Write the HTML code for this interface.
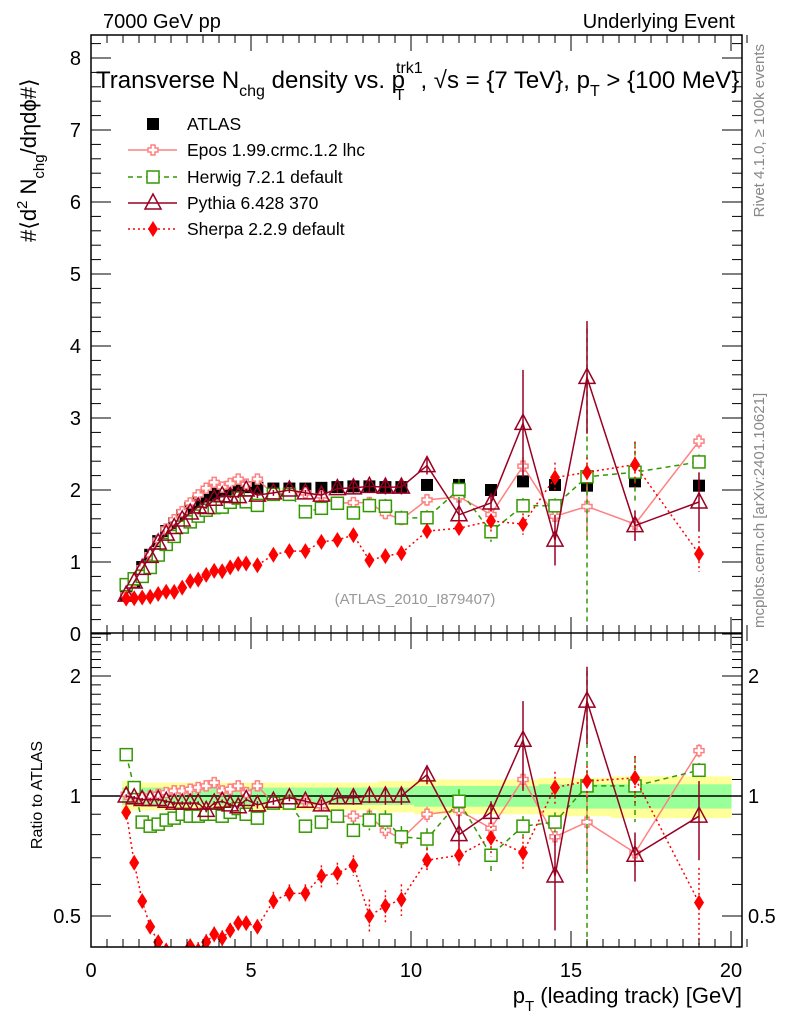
<!DOCTYPE html>
<html><head><meta charset="utf-8">
<style>
html,body{margin:0;padding:0;background:#fff;width:786px;height:1024px;overflow:hidden;}
svg{display:block;font-family:"Liberation Sans",sans-serif;}
</style></head>
<body>
<svg id="c" width="786" height="1024" viewBox="0 0 786 1024">
<defs>
<clipPath id="clipMain"><rect x="91" y="35" width="651" height="598"/></clipPath>
<clipPath id="clipRatio"><rect x="91" y="633" width="651" height="314"/></clipPath>
</defs>
<text x="103" y="28" font-size="20">7000 GeV pp</text>
<text x="735" y="28" font-size="20" text-anchor="end">Underlying Event</text>
<text transform="translate(764,44) rotate(-90)" font-size="15" fill="#888" text-anchor="end">Rivet 4.1.0, ≥ 100k events</text>
<text transform="translate(764,628) rotate(-90)" font-size="15" fill="#888">mcplots.cern.ch [arXiv:2401.10621]</text>
<g id="bands" clip-path="url(#clipRatio)"></g>
<g id="marksMain" clip-path="url(#clipMain)"></g>
<g id="marksRatio" clip-path="url(#clipRatio)"></g>
<g id="axes"></g>
<text x="96" y="88" font-size="24">Transverse N<tspan font-size="16" dy="8">chg</tspan><tspan dy="-8"> density vs. p</tspan><tspan font-size="16" dx="-9" dy="-15">trk1</tspan><tspan font-size="16" dx="-28" dy="27">T</tspan><tspan dx="16" dy="-12">, √s = {7 TeV}, p</tspan><tspan font-size="16" dy="8">T</tspan><tspan dy="-8"> &gt; {100 MeV}</tspan></text>
<text x="415" y="604" font-size="15" fill="#999" text-anchor="middle">(ATLAS_2010_I879407)</text>
<text transform="translate(36,242) rotate(-90)" font-size="22">#⟨d<tspan font-size="15" dy="-9">2</tspan><tspan dy="9"> N</tspan><tspan font-size="15" dy="8">chg</tspan><tspan dy="-8">/dηdϕ#⟩</tspan></text>
<text transform="translate(42,795) rotate(-90)" font-size="16" text-anchor="middle">Ratio to ATLAS</text>
<text x="742" y="1003" font-size="22" text-anchor="end">p<tspan font-size="15" dy="8">T</tspan><tspan dy="-8"> (leading track) [GeV]</tspan></text>
<g id="legend"></g>
</svg>
<script>
const xs = [1.1,1.35,1.6,1.85,2.1,2.35,2.6,2.85,3.1,3.35,3.6,3.85,4.1,4.35,4.6,4.85,5.2,5.7,6.2,6.7,7.2,7.7,8.2,8.7,9.2,9.7,10.5,11.5,12.5,13.5,14.5,15.5,17,19];
const atlas = [0.54,0.73,0.93,1.10,1.29,1.43,1.54,1.65,1.75,1.84,1.91,1.95,1.98,2.01,2.03,2.04,2.03,2.02,2.02,2.02,2.03,2.04,2.05,2.05,2.04,2.04,2.07,2.07,2.0,2.12,2.07,2.06,2.12,2.06];
const bandStat = [0.05,0.05,0.05,0.05,0.05,0.05,0.05,0.05,0.05,0.05,0.05,0.05,0.05,0.05,0.05,0.05,0.05,0.05,0.05,0.05,0.05,0.05,0.05,0.05,0.05,0.05,0.06,0.06,0.06,0.06,0.07,0.07,0.07,0.07];
const bandTot = [0.09,0.08,0.08,0.08,0.08,0.08,0.08,0.08,0.08,0.08,0.08,0.08,0.08,0.08,0.08,0.08,0.08,0.08,0.08,0.08,0.08,0.08,0.08,0.08,0.09,0.09,0.1,0.1,0.1,0.1,0.11,0.11,0.12,0.12];
const eposR = [1.01,1.00,0.99,1.00,1.01,1.02,1.03,1.03,1.04,1.05,1.06,1.08,1.03,1.04,1.06,1.02,1.06,0.96,0.97,0.97,0.945,0.89,0.89,0.89,0.82,0.78,0.90,0.92,0.83,1.10,0.79,0.86,0.72,1.30];
const herwigR = [1.27,1.05,0.86,0.84,0.85,0.87,0.88,0.90,0.89,0.89,0.90,0.90,0.89,0.91,0.93,0.90,0.88,0.96,0.96,0.84,0.86,0.89,0.82,0.87,0.87,0.79,0.78,0.97,0.71,0.84,0.86,1.06,1.06,1.16];
const pythiaR = [1.00,0.99,0.98,0.98,0.98,0.97,0.96,0.96,0.96,0.96,0.92,0.96,0.97,0.95,0.94,0.98,0.95,0.97,0.99,0.97,0.95,0.99,0.99,1.00,1.00,1.00,1.13,0.80,0.91,1.38,0.63,1.73,0.71,0.89];
const sherpaR = [0.91,0.68,0.545,0.47,0.43,0.41,0.38,0.39,0.42,0.41,0.43,0.45,0.44,0.46,0.48,0.48,0.47,0.545,0.57,0.57,0.63,0.64,0.67,0.50,0.53,0.55,0.69,0.71,0.785,0.72,1.05,1.09,1.11,0.54];
const eposE = [0.01,0.01,0.01,0.01,0.01,0.01,0.01,0.01,0.01,0.01,0.01,0.01,0.01,0.01,0.01,0.01,0.02,0.02,0.02,0.03,0.03,0.03,0.03,0.04,0.04,0.04,0.04,0.04,0.04,0.06,0.04,0.22,0.05,0.05];
const herwigE = [0.01,0.01,0.01,0.01,0.01,0.01,0.01,0.01,0.01,0.01,0.01,0.01,0.01,0.01,0.01,0.01,0.02,0.02,0.02,0.03,0.03,0.03,0.04,0.05,0.05,0.05,0.05,0.07,0.07,0.05,0.05,1.0,0.2,0.05];
const pythiaE = [0.01,0.01,0.01,0.01,0.01,0.01,0.01,0.01,0.01,0.01,0.01,0.01,0.01,0.01,0.01,0.01,0.02,0.02,0.02,0.02,0.03,0.03,0.04,0.04,0.05,0.05,0.06,0.1,0.06,0.35,0.17,0.38,0.1,0.2];
const sherpaE = [0.01,0.01,0.01,0.01,0.01,0.01,0.01,0.01,0.01,0.02,0.02,0.02,0.02,0.02,0.02,0.02,0.02,0.03,0.03,0.03,0.04,0.04,0.04,0.05,0.05,0.05,0.05,0.05,0.08,0.07,0.1,0.1,0.15,0.12];
const xTicks = [0,5,10,15,20];
const yTicksMain = [0,1,2,3,4,5,6,7,8];
const yTicksRatio = [0.5,1,2];

const NS="http://www.w3.org/2000/svg";
const X0=91,X1=742,YM0=35,YM1=633,YR0=633,YR1=947;
const sx=v=>91+32*v;
const syM=v=>634-72*v;
const syR=v=>796-120*Math.log2(v);
const clampY=(y,lo,hi)=>Math.min(Math.max(y,lo),hi);
function mk(tag,attrs,parent){const e=document.createElementNS(NS,tag);for(const k in attrs)e.setAttribute(k,attrs[k]);parent.appendChild(e);return e;}
const axes=document.getElementById('axes'),gm=document.getElementById('marksMain'),gr=document.getElementById('marksRatio'),gb=document.getElementById('bands'),lg=document.getElementById('legend');

function edges(i){const l=i===0?xs[0]-0.125:(xs[i-1]+xs[i])/2;const r=i===xs.length-1?20:(xs[i]+xs[i+1])/2;return [l,r];}
for(let i=0;i<xs.length;i++){const [l,r]=edges(i);
 let e=mk('rect',{x:sx(l),y:syR(1+bandTot[i]),width:sx(r)-sx(l)+0.5,height:syR(1-bandTot[i])-syR(1+bandTot[i]),fill:'#ffff99'},gb);
 
 
 e=mk('rect',{x:sx(l),y:syR(1+bandStat[i]),width:sx(r)-sx(l)+0.5,height:syR(1-bandStat[i])-syR(1+bandStat[i]),fill:'#99ff99'},gb);
 
 
}
let ref=mk('line',{x1:X0,x2:X1,y1:syR(1),y2:syR(1),stroke:'#000','stroke-width':1.5},gb);



let f=mk('rect',{x:X0,y:YM0,width:X1-X0,height:YR1-YM0,fill:'none',stroke:'#000','stroke-width':1.5},axes);


f=mk('line',{x1:X0,x2:X1,y1:YR0,y2:YR0,stroke:'#000','stroke-width':1.5},axes);


for(let v=0;v<=20.7;v+=0.5){const major=Math.abs(v%5)<1e-6;const len=major?16:8;
 [[YM0,1],[YR0,-1],[YR0,1],[YR1,-1]].forEach(([y,d])=>{const t=mk('line',{x1:sx(v),x2:sx(v),y1:y,y2:y+d*len,stroke:'#000','stroke-width':1},axes);});}
xTicks.forEach(v=>{const t=mk('text',{x:sx(v),y:977,'font-size':20,'text-anchor':'middle'},axes);t.textContent=v;});
for(let k=0;k<=41;k++){const v=k*0.2;const y=syM(v);if(y<YM0||y>YM1+1)continue;const major=k%5===0;const len=major?20:10;
 [[X0,1],[X1,-1]].forEach(([x,d])=>{const t=mk('line',{x1:x,x2:x+d*len,y1:y,y2:y,stroke:'#000','stroke-width':1},axes);});}
yTicksMain.forEach(v=>{const t=mk('text',{x:81,y:syM(v)+7,'font-size':20,'text-anchor':'end'},axes);t.textContent=v;});
for(let k=4;k<=25;k++){const v=k/10;const y=syR(v);if(y<YR0||y>YR1)continue;const major=(k===5||k===10||k===20);const len=major?20:10;
 [[X0,1],[X1,-1]].forEach(([x,d])=>{const t=mk('line',{x1:x,x2:x+d*len,y1:y,y2:y,stroke:'#000','stroke-width':1},axes);});}
yTicksRatio.forEach(v=>{[[81,'end'],[748,'start']].forEach(([x,a])=>{const t=mk('text',{x:x,y:syR(v)+7,'font-size':20,'text-anchor':a},axes);t.textContent=v;});});

function marker(kind,x,y,color,g){
 let e;
 if(kind==='sq'){e=mk('rect',{x:x-6,y:y-6,width:12,height:12,fill:'#000'},g);}
 else if(kind==='cross'){e=mk('path',{d:`M${x-2},${y-5}h4v3h3v4h-3v3h-4v-3h-3v-4h3z`,fill:'#fff',stroke:color,'stroke-width':1.5},g);}
 else if(kind==='osq'){e=mk('rect',{x:x-6,y:y-6,width:12,height:12,fill:'#fff',stroke:color,'stroke-width':1.5},g);}
 else if(kind==='tri'){e=mk('path',{d:`M${x},${y-9}L${x+8},${y+6}L${x-8},${y+6}Z`,fill:'none',stroke:color,'stroke-width':1.5},g);}
 else {e=mk('path',{d:`M${x},${y-8}L${x+5},${y}L${x},${y+8}L${x-5},${y}Z`,fill:color},g);}
 return e;
}
const series=[
 {name:'epos',label:'Epos 1.99.crmc.1.2 lhc',r:eposR,e:eposE,color:'#ff8080',dash:'',kind:'cross'},
 {name:'herwig',label:'Herwig 7.2.1 default',r:herwigR,e:herwigE,color:'#339900',dash:'5,4',kind:'osq'},
 {name:'pythia',label:'Pythia 6.428 370',r:pythiaR,e:pythiaE,color:'#990022',dash:'',kind:'tri'},
 {name:'sherpa',label:'Sherpa 2.2.9 default',r:sherpaR,e:sherpaE,color:'#ff0000',dash:'2,3',kind:'dia'}
];
atlas.forEach((v,i)=>{const m=marker('sq',sx(xs[i]),syM(v),'#000',gm);});
series.forEach(s=>{
 [[gm,i=>atlas[i]*s.r[i],i=>atlas[i]*s.e[i],syM,YM0,YM1],[gr,i=>s.r[i],i=>s.e[i],syR,YR0,YR1]].forEach(([g,val,err,sy,t0,t1])=>{
  const pts=xs.map((x,i)=>sx(x)+','+sy(val(i))).join(' ');
  const pl=mk('polyline',{points:pts,fill:'none',stroke:s.color,'stroke-width':1.5,'stroke-dasharray':s.dash},g);
  
  
  xs.forEach((x,i)=>{const v=val(i),er=err(i);const lo=Math.max(v-er,0.01);
   const eb=mk('line',{x1:sx(x),x2:sx(x),y1:clampY(sy(v+er),t0,t1),y2:clampY(sy(lo),t0,t1),stroke:s.color,'stroke-width':1.5,'stroke-dasharray':s.dash},g);
   
   
   const m=marker(s.kind,sx(x),sy(v),s.color,g);
   
   
  });
 });
});
const ly=[124,150,177,203,229];
let lm=marker('sq',153,ly[0],'#000',lg);


let lt=mk('text',{x:187,y:ly[0]+6,'font-size':17.5},lg);lt.textContent='ATLAS';


series.forEach((s,k)=>{const y=ly[k+1];
 const l=mk('line',{x1:128,x2:177,y1:y,y2:y,stroke:s.color,'stroke-width':1.5,'stroke-dasharray':s.dash},lg);
 
 
 const m=marker(s.kind,153,y,s.color,lg);
 
 
 const t=mk('text',{x:187,y:y+6,'font-size':17.5},lg);t.textContent=s.label;
 
 
});
</script>
</body></html>
